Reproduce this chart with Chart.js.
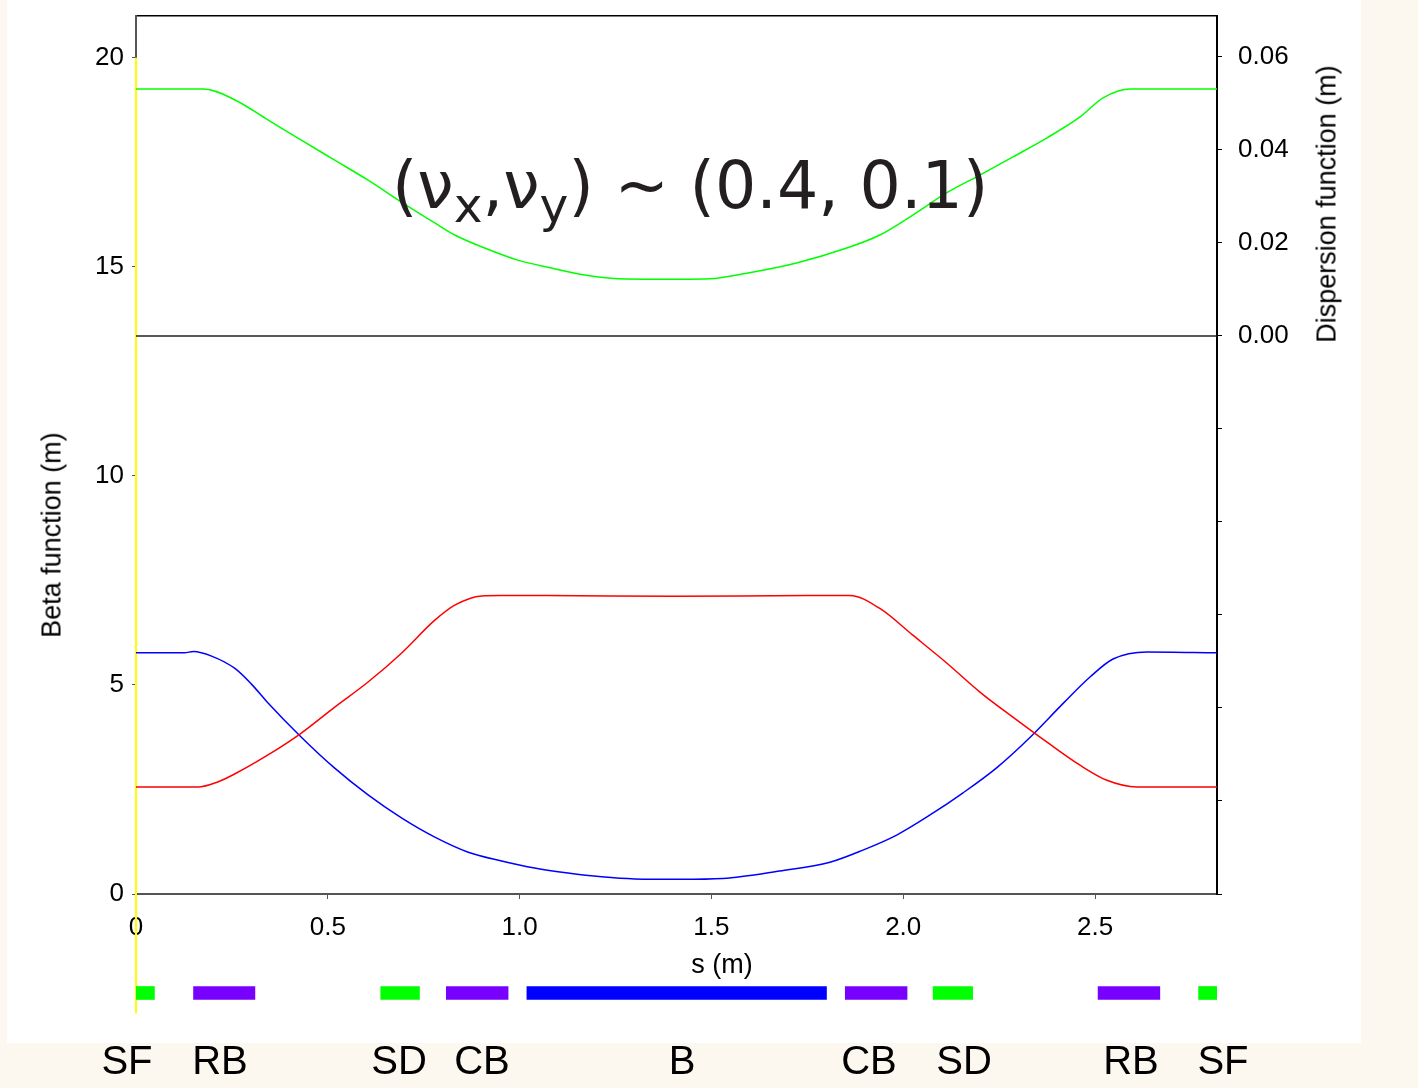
<!DOCTYPE html>
<html>
<head>
<meta charset="UTF-8">
<title>Beta and dispersion functions</title>
<script src="https://cdn.jsdelivr.net/npm/chart.js@4.4.1/dist/chart.umd.min.js"></script>
<style>
  body { margin: 0; width: 1418px; height: 1088px; background: #fcf8f0; position: relative; overflow: hidden;
         font-family: 'Liberation Sans', Arial, sans-serif; color: #000; }
  #panel { position: absolute; left: 7px; top: 0; width: 1354px; height: 1043px; background: #fff; }
  canvas { position: absolute; left: 0; }
  .axtitle { position: absolute; font-size: 27px; line-height: 1; white-space: nowrap; transform: translate(-50%, -50%); }
  .rot { transform: translate(-50%, -50%) rotate(-90deg); }
  #tune { position: absolute; left: 392px; top: 153px; font-family: 'DejaVu Sans', sans-serif; font-size: 65px;
          line-height: 65px; color: #231f20; white-space: nowrap; }
  #tune sub { font-size: 0.75em; vertical-align: -0.28em; line-height: 0; }
  .mag { position: absolute; top: 1040px; font-size: 40px; line-height: 40px; transform: translateX(-50%); }
</style>
</head>
<body>
<div id="panel"></div>
<canvas id="chart" width="1418" height="1088" style="top:0"></canvas>
<canvas id="lattice" width="1418" height="26" style="top:980px"></canvas>

<div class="axtitle rot" style="left:52px; top:535px">Beta function (m)</div>
<div class="axtitle rot" style="left:1327px; top:204px">Dispersion function (m)</div>
<div class="axtitle" style="left:722px; top:964px">s (m)</div>
<div id="tune">(ν<sub>x</sub>,ν<sub>y</sub>) ~ (0.4, 0.1)</div>
<div id="magLabels"></div>

<script>
  // dispersion (right axis, m)
  var dispS = [0, 0.176, 0.257, 0.343, 0.431, 0.518, 0.605, 0.692, 0.779, 0.831, 0.909, 0.995, 1.083, 1.170, 1.256,
               1.36, 1.418, 1.496, 1.592, 1.722, 1.853, 1.939, 2.025, 2.114, 2.2, 2.286, 2.375, 2.461, 2.521, 2.592, 2.818];
  var dispD = [0.0531, 0.0531, 0.0508, 0.0465, 0.0421, 0.0378, 0.0335, 0.0288, 0.0243, 0.0217, 0.0189, 0.0163, 0.0146, 0.0131, 0.0123,
               0.0122, 0.0122, 0.0123, 0.0135, 0.0157, 0.0189, 0.0217, 0.0260, 0.0308, 0.0346, 0.0385, 0.0426, 0.0471, 0.0512, 0.0531, 0.0531];

  // dispersion zero line
  var zeroS = [0, 2.818];
  var zeroD = [0, 0];

  // beta function, red curve
  var betaYS = [0, 0.161, 0.213, 0.257, 0.343, 0.431, 0.518, 0.605, 0.692, 0.779, 0.831, 0.901, 0.95, 1.07, 1.40, 1.75, 1.861,
                1.939, 2.025, 2.114, 2.2, 2.286, 2.375, 2.461, 2.531, 2.609, 2.818];
  var betaY  = [2.56, 2.56, 2.68, 2.87, 3.32, 3.85, 4.47, 5.07, 5.76, 6.55, 6.91, 7.13, 7.14, 7.14, 7.12, 7.14, 7.14,
                6.83, 6.19, 5.52, 4.83, 4.23, 3.63, 3.08, 2.72, 2.56, 2.56];

  // beta function, blue curve
  var betaXS = [0, 0.126, 0.15, 0.197, 0.257, 0.301, 0.343, 0.431, 0.518, 0.605, 0.692, 0.779, 0.866, 0.953, 1.039, 1.126,
                1.214, 1.30, 1.418, 1.53, 1.678, 1.809, 1.895, 1.983, 2.07, 2.156, 2.245, 2.331, 2.417, 2.487, 2.547, 2.636, 2.818];
  var betaX  = [5.77, 5.77, 5.80, 5.69, 5.40, 5.02, 4.58, 3.75, 3.01, 2.37, 1.82, 1.36, 1.00, 0.79, 0.62, 0.50,
                0.41, 0.36, 0.35, 0.37, 0.55, 0.76, 1.05, 1.41, 1.89, 2.42, 3.03, 3.75, 4.56, 5.19, 5.62, 5.79, 5.77];

  // marker line at s = 0
  var markerS = [0, 0];
  var markerB = [20, -2.85];

  // lattice elements
  var magnetNames = ['SF', 'RB', 'SD', 'CB', 'B', 'CB', 'SD', 'RB', 'SF'];
  var magnetStart = [0, 0.150, 0.638, 0.809, 1.019, 1.849, 2.078, 2.508, 2.770];
  var magnetEnd   = [0.048, 0.310, 0.739, 0.970, 1.800, 2.010, 2.181, 2.669, 2.818];

  var sMax = 2.818;
  var magnetColors = { SF: '#00ff00', SD: '#00ff00', RB: '#7800ff', CB: '#7800ff', B: '#0000ff' };
  var labelX = [127, 220, 399, 482, 682, 869, 964, 1131, 1223];

  function pts(xs, ys) {
    return xs.map(function (x, i) { return { x: x, y: ys[i] }; });
  }
  function keepMultiples(step) {
    return function (scale) {
      scale.ticks = scale.ticks.filter(function (t) {
        var r = t.value / step;
        return Math.abs(r - Math.round(r)) < 1e-6;
      });
    };
  }
  // fixed box sizes so the plot area lands where the reference has it
  function fixSize(w, h) {
    return function (s) {
      if (w !== null) s.width = w;
      if (h !== null) s.height = h;
      s.paddingTop = 0; s.paddingBottom = 0; s.paddingLeft = 0; s.paddingRight = 0;
    };
  }

  Chart.defaults.font.family = "'Liberation Sans', Arial, sans-serif";
  Chart.defaults.font.size = 26;
  Chart.defaults.color = '#000';

  new Chart(document.getElementById('chart'), {
    type: 'line',
    data: {
      datasets: [
        { data: pts(zeroS, zeroD), yAxisID: 'yD', borderColor: '#222', borderWidth: 1.5, pointRadius: 0 },
        { data: pts(dispS, dispD), yAxisID: 'yD', borderColor: '#00ff00', borderWidth: 1.5, pointRadius: 0, cubicInterpolationMode: 'monotone' },
        { data: pts(betaYS, betaY), yAxisID: 'y', borderColor: '#ff0000', borderWidth: 1.5, pointRadius: 0, cubicInterpolationMode: 'monotone' },
        { data: pts(betaXS, betaX), yAxisID: 'y', borderColor: '#0000ff', borderWidth: 1.5, pointRadius: 0, cubicInterpolationMode: 'monotone' },
        { data: pts(markerS, markerB), yAxisID: 'y', borderColor: '#ffff00', borderWidth: 2, pointRadius: 0, clip: false }
      ]
    },
    options: {
      responsive: false,
      animation: false,
      layout: { padding: 0 },
      plugins: { legend: { display: false }, tooltip: { enabled: false } },
      scales: {
        x: {
          type: 'linear', position: 'bottom', min: 0, max: sMax,
          afterBuildTicks: keepMultiples(0.5),
          afterFit: fixSize(null, 194),
          ticks: { stepSize: 0.5, padding: 13, maxRotation: 0,
                   callback: function (v) { return v === 0 ? '0' : v.toFixed(1); } },
          grid: { drawOnChartArea: false, tickLength: 5, tickColor: '#555' },
          border: { color: '#555', width: 2 }
        },
        xTop: {
          type: 'linear', position: 'top', min: 0, max: sMax,
          afterFit: fixSize(null, 16),
          ticks: { display: false },
          grid: { drawOnChartArea: false, drawTicks: false },
          border: { color: '#000', width: 1.5 }
        },
        y: {
          type: 'linear', position: 'left', min: 0, max: 21,
          afterBuildTicks: keepMultiples(5),
          afterFit: fixSize(136, null),
          ticks: { stepSize: 5, padding: 8 },
          grid: { drawOnChartArea: false, tickLength: 4, tickColor: '#555' },
          border: { color: '#555', width: 2 }
        },
        yD: {
          type: 'linear', position: 'right', min: -0.12, max: 0.0688,
          afterBuildTicks: keepMultiples(0.02),
          afterFit: fixSize(201, null),
          ticks: { stepSize: 0.02, padding: 16,
                   callback: function (v) {
                     if (v < -1e-9) return '';
                     return Math.abs(v) < 1e-9 ? '0.00' : v.toFixed(2);
                   } },
          grid: { drawOnChartArea: false, tickLength: 5, tickColor: '#000' },
          border: { color: '#000', width: 2, dash: [3, 1] }
        }
      }
    }
  });

  // lattice strip under the axis
  new Chart(document.getElementById('lattice'), {
    type: 'bar',
    data: {
      labels: ['lattice'],
      datasets: [{
        data: magnetNames.map(function (n, i) { return { x: [magnetStart[i], magnetEnd[i]], y: 'lattice' }; }),
        backgroundColor: magnetNames.map(function (n) { return magnetColors[n]; }),
        borderWidth: 0,
        barThickness: 13
      }]
    },
    options: {
      indexAxis: 'y',
      responsive: false,
      animation: false,
      layout: { padding: { left: 136, right: 201, top: 0, bottom: 0 } },
      plugins: { legend: { display: false }, tooltip: { enabled: false } },
      scales: {
        x: { type: 'linear', min: 0, max: sMax, display: false },
        y: { type: 'category', display: false }
      }
    }
  });

  var holder = document.getElementById('magLabels');
  magnetNames.forEach(function (n, i) {
    var d = document.createElement('div');
    d.className = 'mag';
    d.style.left = labelX[i] + 'px';
    d.textContent = n;
    holder.appendChild(d);
  });
</script>
</body>
</html>
